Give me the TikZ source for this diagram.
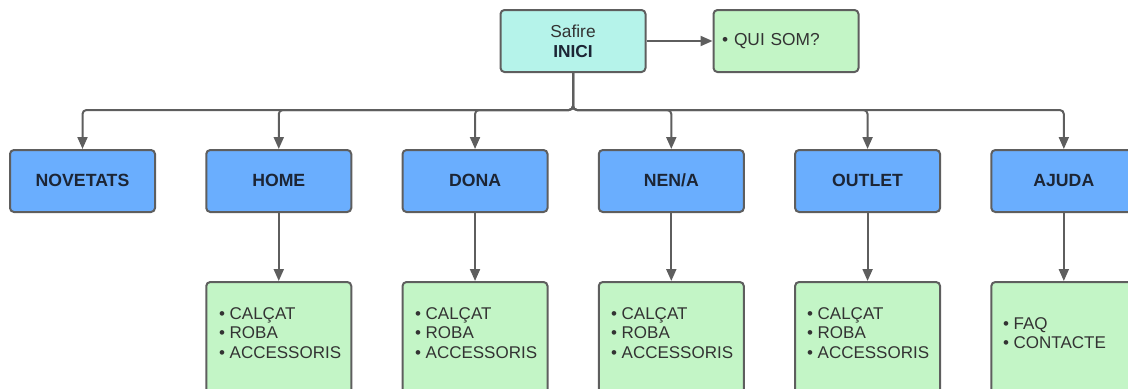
\documentclass[tikz,border=0pt]{standalone}
\usepackage{fontspec}
\setmainfont{Liberation Sans}
\usepackage{tikz}
\usepackage{xcolor}
\usetikzlibrary{positioning,arrows.meta}
\definecolor{inicifill}{HTML}{B5F3EA}
\definecolor{listfill}{HTML}{C3F5C6}
\definecolor{catfill}{HTML}{6AAEFE}
\definecolor{edge}{HTML}{5E5E5E}
\definecolor{ink}{HTML}{1C2535}
\definecolor{grey}{HTML}{333333}

\begin{document}
\begin{tikzpicture}[x=0.75pt, y=-0.75pt, node distance={147.2pt}, line width=1.5pt,
  box/.style = {draw=edge, rounded corners=3pt, minimum width=108.75pt, minimum height=46.5pt, text=grey, font=\fontsize{13}{15}\selectfont},
  cat/.style = {box, fill=catfill, text=ink, text height=9.5pt, text depth=1pt, font=\fontsize{13.25}{15}\selectfont\bfseries},
  list/.style = {box, fill=listfill, minimum height=97.5pt, anchor=north},
  items/.style = {align=left, anchor=west, inner sep=0pt, text=grey, font=\fontsize{12.75}{14.6}\selectfont},
  link/.style = {draw=edge, -{Triangle[length=9pt, width=7.5pt]}, rounded corners=3pt}]
\useasboundingbox (0,0) rectangle (1128,389);
\clip (0,0) rectangle (1128,389);

\node[box, fill=inicifill, align=center] (inici) at (573,41) {Safire\\\textcolor{ink}{\bfseries INICI}};
\node[box, fill=listfill, align=left, inner xsep=6.5pt, text width=95.75pt] (quisom) at (786,41) {\textbullet\ QUI SOM?};
\draw[link] (inici) -- (quisom);

\node[cat] (novetats) at (82.5,181) {NOVETATS};
\node[cat] (home) [right of=novetats] {HOME};
\node[cat] (dona) [right of=home] {DONA};
\node[cat] (nena) [right of=dona] {NEN/A};
\node[cat] (outlet) [right of=nena] {OUTLET};
\node[cat] (ajuda) [right of=outlet] {AJUDA};

\coordinate (split) at (573,110);
\draw[link] (inici.south) -- (split) -| (novetats.north);
\draw[link] (inici.south) -- (split) -| (home.north);
\draw[link] (inici.south) -- (split) -| (dona.north);
\draw[link] (inici.south) -- (split) -| (nena.north);
\draw[link] (inici.south) -- (split) -| (outlet.north);
\draw[link] (inici.south) -- (split) -| (ajuda.north);

\node[list] (homelist) at (home.south |- 0,281) {};
\node[list] (donalist) at (dona.south |- 0,281) {};
\node[list] (nenalist) at (nena.south |- 0,281) {};
\node[list] (outletlist) at (outlet.south |- 0,281) {};
\node[list] (ajudalist) at (ajuda.south |- 0,281) {};
\draw[link] (home) -- (homelist);
\draw[link] (dona) -- (donalist);
\draw[link] (nena) -- (nenalist);
\draw[link] (outlet) -- (outletlist);
\draw[link] (ajuda) -- (ajudalist);

\node[items] (homeitems) at (218,333) {\textbullet\ CALÇAT\\\textbullet\ ROBA\\\textbullet\ ACCESSORIS};
\node[items] (donaitems) at (414,333) {\textbullet\ CALÇAT\\\textbullet\ ROBA\\\textbullet\ ACCESSORIS};
\node[items] (nenaitems) at (610,333) {\textbullet\ CALÇAT\\\textbullet\ ROBA\\\textbullet\ ACCESSORIS};
\node[items] (outletitems) at (806,333) {\textbullet\ CALÇAT\\\textbullet\ ROBA\\\textbullet\ ACCESSORIS};
\node[items] (ajudaitems) at (1002,333) {\textbullet\ FAQ\\\textbullet\ CONTACTE};

\end{tikzpicture}
\end{document}
